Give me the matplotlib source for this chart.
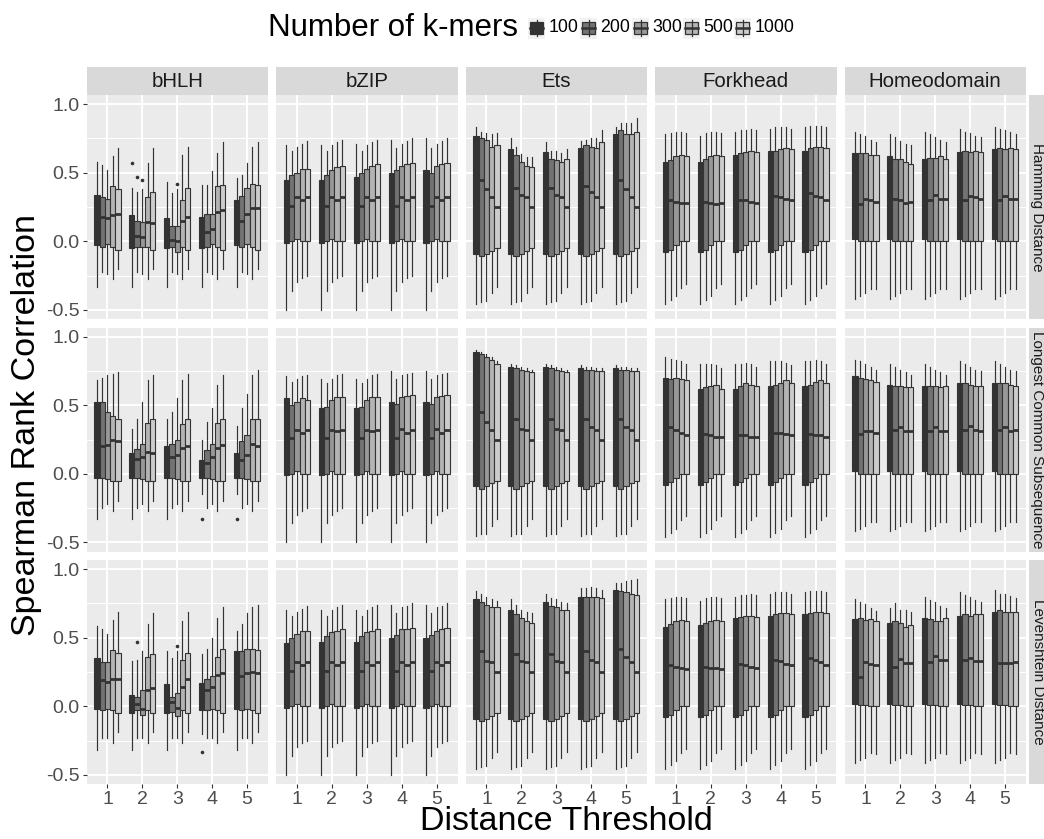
import matplotlib
matplotlib.use("Agg")
import matplotlib.pyplot as plt
from matplotlib.patches import Rectangle
from matplotlib.lines import Line2D

plt.rcParams["font.family"] = ["Liberation Sans", "DejaVu Sans"]

families = ["bHLH", "bZIP", "Ets", "Forkhead", "Homeodomain"]
distances = ["Hamming Distance", "Longest Common Subsequence", "Levenshtein Distance"]
thresholds = [1, 2, 3, 4, 5]
kmers = ["100", "200", "300", "500", "1000"]
fills = ["#333333", "#737373", "#989898", "#B4B4B4", "#CCCCCC"]

# Box statistics: rows are thresholds 1..5, columns are k-mer counts.
# A flat list of 5 means the same value at every threshold.

# ---- Hamming Distance ----
HAM_LO = {
    "bHLH": [-0.33, -0.22, -0.24, -0.275, -0.20],
    "bZIP": [-0.50, -0.36, -0.30, -0.27, -0.25],
    "Ets": [-0.455, -0.44, -0.435, -0.38, -0.33],
    "Forkhead": [-0.46, -0.43, -0.40, -0.34, -0.31],
    "Homeodomain": [-0.42, -0.40, -0.38, -0.35, -0.35],
}
HAM_Q1 = {
    "bHLH": [[-0.03, -0.04, -0.02, -0.04, -0.06],
             [-0.05, -0.04, -0.04, -0.04, -0.06],
             [-0.05, -0.04, -0.08, -0.04, -0.06],
             [-0.05, -0.04, -0.02, -0.04, -0.06],
             [-0.03, -0.04, -0.02, -0.04, -0.06]],
    "bZIP": [-0.01, 0.0, 0.02, 0.0, 0.0],
    "Ets": [-0.09, -0.11, -0.09, -0.07, -0.05],
    "Forkhead": [-0.08, -0.06, -0.03, 0.0, 0.0],
    "Homeodomain": [0.02, 0.0, 0.0, 0.0, 0.0],
}
HAM_MED = {
    "bHLH": [[0.20, 0.18, 0.17, 0.19, 0.20],
             [0.05, 0.04, 0.03, 0.14, 0.13],
             [0.08, 0.01, 0.00, 0.15, 0.18],
             [0.07, 0.07, 0.09, 0.21, 0.23],
             [0.15, 0.15, 0.20, 0.24, 0.24]],
    "bZIP": [0.27, 0.26, 0.32, 0.30, 0.32],
    "Ets": [[0.45, 0.45, 0.38, 0.32, 0.25],
            [0.40, 0.39, 0.335, 0.32, 0.25],
            [0.40, 0.385, 0.335, 0.32, 0.25],
            [0.42, 0.40, 0.36, 0.32, 0.25],
            [0.45, 0.45, 0.38, 0.32, 0.25]],
    "Forkhead": [[0.30, 0.30, 0.29, 0.28, 0.28],
                 [0.28, 0.29, 0.28, 0.27, 0.28],
                 [0.29, 0.30, 0.30, 0.29, 0.28],
                 [0.32, 0.33, 0.32, 0.31, 0.30],
                 [0.33, 0.35, 0.33, 0.32, 0.30]],
    "Homeodomain": [[0.28, 0.27, 0.31, 0.30, 0.29],
                    [0.30, 0.31, 0.30, 0.28, 0.29],
                    [0.31, 0.30, 0.34, 0.31, 0.31],
                    [0.31, 0.30, 0.33, 0.32, 0.31],
                    [0.32, 0.30, 0.33, 0.31, 0.31]],
}
HAM_Q3 = {
    "bHLH": [[0.34, 0.32, 0.31, 0.40, 0.38],
             [0.19, 0.15, 0.14, 0.32, 0.36],
             [0.17, 0.11, 0.11, 0.30, 0.39],
             [0.18, 0.20, 0.20, 0.40, 0.41],
             [0.30, 0.33, 0.39, 0.42, 0.41]],
    "bZIP": [[0.445, 0.48, 0.50, 0.53, 0.53],
             [0.45, 0.48, 0.52, 0.54, 0.55],
             [0.47, 0.50, 0.53, 0.55, 0.56],
             [0.50, 0.52, 0.55, 0.56, 0.57],
             [0.52, 0.50, 0.55, 0.56, 0.57]],
    "Ets": [[0.77, 0.75, 0.74, 0.69, 0.705],
            [0.67, 0.63, 0.575, 0.55, 0.54],
            [0.65, 0.60, 0.59, 0.575, 0.60],
            [0.68, 0.70, 0.685, 0.68, 0.72],
            [0.785, 0.81, 0.785, 0.785, 0.80]],
    "Forkhead": [[0.58, 0.59, 0.62, 0.63, 0.62],
                 [0.58, 0.60, 0.62, 0.63, 0.62],
                 [0.63, 0.64, 0.65, 0.66, 0.65],
                 [0.66, 0.66, 0.67, 0.68, 0.67],
                 [0.66, 0.68, 0.69, 0.69, 0.68]],
    "Homeodomain": [[0.64, 0.64, 0.64, 0.63, 0.63],
                    [0.62, 0.60, 0.60, 0.58, 0.56],
                    [0.60, 0.61, 0.61, 0.62, 0.60],
                    [0.65, 0.66, 0.65, 0.66, 0.65],
                    [0.67, 0.68, 0.67, 0.68, 0.67]],
}
HAM_HI = {
    "bHLH": [[0.58, 0.555, 0.52, 0.625, 0.68],
             [0.39, 0.36, 0.38, 0.57, 0.68],
             [0.43, 0.35, 0.38, 0.63, 0.69],
             [0.41, 0.41, 0.51, 0.64, 0.72],
             [0.46, 0.48, 0.57, 0.69, 0.72]],
    "bZIP": [[0.70, 0.66, 0.69, 0.71, 0.73],
             [0.70, 0.66, 0.70, 0.72, 0.74],
             [0.71, 0.66, 0.70, 0.72, 0.74],
             [0.74, 0.68, 0.71, 0.73, 0.75],
             [0.75, 0.68, 0.71, 0.73, 0.75]],
    "Ets": [[0.83, 0.80, 0.79, 0.78, 0.79],
            [0.75, 0.69, 0.635, 0.615, 0.615],
            [0.72, 0.66, 0.655, 0.645, 0.67],
            [0.73, 0.74, 0.755, 0.755, 0.81],
            [0.83, 0.86, 0.865, 0.865, 0.895]],
    "Forkhead": [[0.78, 0.79, 0.80, 0.80, 0.79],
                 [0.77, 0.79, 0.80, 0.80, 0.79],
                 [0.80, 0.81, 0.81, 0.82, 0.81],
                 [0.82, 0.83, 0.83, 0.83, 0.82],
                 [0.83, 0.84, 0.84, 0.84, 0.83]],
    "Homeodomain": [[0.80, 0.78, 0.77, 0.74, 0.72],
                    [0.78, 0.76, 0.73, 0.71, 0.70],
                    [0.80, 0.78, 0.76, 0.74, 0.72],
                    [0.82, 0.80, 0.79, 0.77, 0.76],
                    [0.83, 0.82, 0.81, 0.80, 0.78]],
}

# ---- Longest Common Subsequence ----
LCS_LO = {
    "bHLH": [[-0.33, -0.25, -0.22, -0.27, -0.20],
             [-0.33, -0.25, -0.22, -0.27, -0.20],
             [-0.33, -0.25, -0.22, -0.27, -0.20],
             [-0.15, -0.25, -0.22, -0.27, -0.20],
             [-0.15, -0.25, -0.22, -0.27, -0.20]],
    "bZIP": [-0.50, -0.36, -0.30, -0.27, -0.25],
    "Ets": [-0.455, -0.44, -0.435, -0.38, -0.33],
    "Forkhead": [-0.46, -0.43, -0.40, -0.34, -0.31],
    "Homeodomain": [-0.42, -0.40, -0.38, -0.35, -0.35],
}
LCS_Q1 = {
    "bHLH": [-0.03, -0.03, -0.04, -0.05, -0.05],
    "bZIP": [-0.01, 0.0, 0.02, 0.0, 0.0],
    "Ets": [-0.09, -0.11, -0.09, -0.07, -0.05],
    "Forkhead": [-0.08, -0.06, -0.03, 0.0, 0.0],
    "Homeodomain": [0.02, 0.0, 0.0, 0.0, 0.0],
}
LCS_MED = {
    "bHLH": [[0.22, 0.20, 0.21, 0.25, 0.24],
             [0.08, 0.11, 0.12, 0.16, 0.15],
             [0.12, 0.12, 0.14, 0.19, 0.20],
             [0.05, 0.08, 0.12, 0.19, 0.21],
             [0.08, 0.10, 0.14, 0.22, 0.20]],
    "bZIP": [[0.27, 0.26, 0.32, 0.30, 0.32],
             [0.27, 0.26, 0.32, 0.31, 0.32],
             [0.27, 0.26, 0.32, 0.31, 0.32],
             [0.27, 0.26, 0.33, 0.30, 0.32],
             [0.27, 0.26, 0.33, 0.30, 0.32]],
    "Ets": [[0.45, 0.45, 0.38, 0.32, 0.25],
            [0.42, 0.40, 0.33, 0.32, 0.25],
            [0.42, 0.40, 0.33, 0.32, 0.25],
            [0.42, 0.40, 0.34, 0.32, 0.25],
            [0.42, 0.40, 0.34, 0.32, 0.25]],
    "Forkhead": [[0.35, 0.34, 0.32, 0.30, 0.28],
                 [0.28, 0.29, 0.28, 0.27, 0.27],
                 [0.27, 0.28, 0.28, 0.27, 0.27],
                 [0.28, 0.30, 0.30, 0.29, 0.28],
                 [0.28, 0.29, 0.28, 0.28, 0.27]],
    "Homeodomain": [[0.29, 0.29, 0.31, 0.31, 0.30],
                    [0.31, 0.32, 0.34, 0.31, 0.31],
                    [0.32, 0.31, 0.34, 0.31, 0.31],
                    [0.33, 0.32, 0.35, 0.32, 0.31],
                    [0.33, 0.32, 0.34, 0.31, 0.32]],
}
LCS_Q3 = {
    "bHLH": [[0.52, 0.52, 0.45, 0.42, 0.40],
             [0.15, 0.18, 0.22, 0.37, 0.40],
             [0.20, 0.22, 0.25, 0.36, 0.40],
             [0.10, 0.17, 0.22, 0.37, 0.40],
             [0.15, 0.24, 0.28, 0.40, 0.40]],
    "bZIP": [[0.55, 0.505, 0.52, 0.55, 0.54],
             [0.48, 0.49, 0.54, 0.56, 0.56],
             [0.48, 0.49, 0.54, 0.56, 0.56],
             [0.52, 0.51, 0.56, 0.57, 0.575],
             [0.52, 0.51, 0.56, 0.57, 0.575]],
    "Ets": [[0.89, 0.87, 0.85, 0.83, 0.80],
            [0.78, 0.77, 0.76, 0.75, 0.74],
            [0.78, 0.77, 0.76, 0.75, 0.74],
            [0.77, 0.76, 0.76, 0.75, 0.75],
            [0.77, 0.76, 0.76, 0.75, 0.75]],
    "Forkhead": [[0.70, 0.69, 0.70, 0.69, 0.68],
                 [0.62, 0.63, 0.64, 0.65, 0.62],
                 [0.62, 0.64, 0.66, 0.65, 0.64],
                 [0.64, 0.65, 0.66, 0.68, 0.66],
                 [0.64, 0.65, 0.67, 0.68, 0.66]],
    "Homeodomain": [[0.71, 0.70, 0.69, 0.68, 0.67],
                    [0.65, 0.64, 0.64, 0.63, 0.63],
                    [0.64, 0.64, 0.64, 0.63, 0.64],
                    [0.66, 0.66, 0.65, 0.64, 0.64],
                    [0.66, 0.66, 0.66, 0.65, 0.64]],
}
LCS_HI = {
    "bHLH": [[0.68, 0.70, 0.72, 0.73, 0.74],
             [0.33, 0.40, 0.52, 0.68, 0.72],
             [0.40, 0.45, 0.55, 0.68, 0.73],
             [0.25, 0.38, 0.48, 0.65, 0.72],
             [0.35, 0.48, 0.58, 0.72, 0.76]],
    "bZIP": [[0.71, 0.67, 0.69, 0.71, 0.72],
             [0.69, 0.66, 0.69, 0.72, 0.73],
             [0.69, 0.66, 0.69, 0.72, 0.73],
             [0.75, 0.69, 0.72, 0.73, 0.735],
             [0.75, 0.69, 0.72, 0.73, 0.735]],
    "Ets": [[0.90, 0.89, 0.87, 0.85, 0.82],
            [0.80, 0.79, 0.78, 0.77, 0.76],
            [0.80, 0.79, 0.78, 0.77, 0.76],
            [0.79, 0.78, 0.78, 0.77, 0.77],
            [0.79, 0.78, 0.78, 0.77, 0.77]],
    "Forkhead": [[0.85, 0.84, 0.83, 0.82, 0.80],
                 [0.80, 0.80, 0.80, 0.79, 0.77],
                 [0.80, 0.80, 0.81, 0.80, 0.78],
                 [0.82, 0.82, 0.82, 0.81, 0.79],
                 [0.82, 0.82, 0.83, 0.82, 0.80]],
    "Homeodomain": [[0.83, 0.82, 0.80, 0.78, 0.76],
                    [0.80, 0.78, 0.76, 0.74, 0.72],
                    [0.80, 0.78, 0.76, 0.74, 0.72],
                    [0.82, 0.80, 0.78, 0.76, 0.75],
                    [0.82, 0.80, 0.78, 0.76, 0.75]],
}

# ---- Levenshtein Distance ----
LEV_LO = {
    "bHLH": [[-0.32, -0.23, -0.23, -0.265, -0.19],
             [-0.32, -0.23, -0.23, -0.265, -0.19],
             [-0.32, -0.23, -0.23, -0.265, -0.19],
             [-0.20, -0.23, -0.23, -0.265, -0.19],
             [-0.32, -0.23, -0.23, -0.265, -0.19]],
    "bZIP": [-0.50, -0.36, -0.30, -0.27, -0.25],
    "Ets": [-0.455, -0.44, -0.435, -0.38, -0.33],
    "Forkhead": [-0.46, -0.43, -0.40, -0.34, -0.31],
    "Homeodomain": [-0.415, -0.39, -0.38, -0.343, -0.35],
}
LEV_Q1 = {
    "bHLH": [[-0.02, -0.03, -0.02, -0.03, -0.05],
             [-0.05, -0.03, -0.06, -0.03, -0.05],
             [-0.05, -0.04, -0.07, -0.03, -0.05],
             [-0.03, -0.03, -0.02, -0.03, -0.05],
             [-0.02, -0.03, -0.02, -0.03, -0.05]],
    "bZIP": [-0.01, 0.0, 0.02, 0.0, 0.0],
    "Ets": [-0.09, -0.11, -0.09, -0.07, -0.05],
    "Forkhead": [-0.08, -0.06, -0.03, 0.0, 0.0],
    "Homeodomain": [0.02, 0.007, 0.007, 0.0, 0.0],
}
LEV_MED = {
    "bHLH": [[0.19, 0.19, 0.18, 0.20, 0.20],
             [0.04, 0.02, -0.02, 0.12, 0.13],
             [0.06, 0.03, -0.01, 0.14, 0.20],
             [0.10, 0.12, 0.14, 0.23, 0.24],
             [0.20, 0.22, 0.24, 0.25, 0.24]],
    "bZIP": [0.27, 0.26, 0.32, 0.30, 0.32],
    "Ets": [[0.42, 0.40, 0.33, 0.32, 0.25],
            [0.40, 0.38, 0.33, 0.32, 0.25],
            [0.40, 0.38, 0.33, 0.32, 0.25],
            [0.42, 0.40, 0.34, 0.32, 0.25],
            [0.45, 0.42, 0.36, 0.32, 0.25]],
    "Forkhead": [[0.29, 0.30, 0.29, 0.28, 0.27],
                 [0.28, 0.29, 0.28, 0.28, 0.27],
                 [0.30, 0.31, 0.30, 0.29, 0.28],
                 [0.33, 0.34, 0.33, 0.31, 0.30],
                 [0.34, 0.35, 0.34, 0.32, 0.30]],
    "Homeodomain": [[0.28, 0.21, 0.324, 0.311, 0.30],
                    [0.30, 0.29, 0.348, 0.319, 0.319],
                    [0.31, 0.324, 0.367, 0.336, 0.336],
                    [0.32, 0.338, 0.355, 0.33, 0.33],
                    [0.31, 0.314, 0.319, 0.319, 0.324]],
}
LEV_Q3 = {
    "bHLH": [[0.355, 0.326, 0.32, 0.41, 0.387],
             [0.08, 0.07, 0.12, 0.36, 0.38],
             [0.16, 0.07, 0.10, 0.34, 0.39],
             [0.17, 0.20, 0.22, 0.36, 0.42],
             [0.40, 0.40, 0.42, 0.42, 0.41]],
    "bZIP": [[0.46, 0.50, 0.53, 0.55, 0.55],
             [0.47, 0.51, 0.54, 0.55, 0.56],
             [0.47, 0.51, 0.54, 0.55, 0.56],
             [0.50, 0.52, 0.56, 0.56, 0.57],
             [0.50, 0.52, 0.55, 0.56, 0.57]],
    "Ets": [[0.78, 0.76, 0.74, 0.72, 0.72],
            [0.70, 0.67, 0.64, 0.62, 0.61],
            [0.76, 0.73, 0.72, 0.70, 0.70],
            [0.80, 0.80, 0.80, 0.80, 0.79],
            [0.85, 0.84, 0.83, 0.82, 0.81]],
    "Forkhead": [[0.58, 0.60, 0.62, 0.63, 0.62],
                 [0.59, 0.61, 0.62, 0.63, 0.62],
                 [0.64, 0.65, 0.66, 0.66, 0.65],
                 [0.66, 0.67, 0.68, 0.68, 0.67],
                 [0.67, 0.68, 0.69, 0.69, 0.68]],
    "Homeodomain": [[0.635, 0.64, 0.628, 0.635, 0.623],
                    [0.61, 0.623, 0.606, 0.58, 0.596],
                    [0.647, 0.635, 0.623, 0.623, 0.64],
                    [0.655, 0.67, 0.66, 0.67, 0.67],
                    [0.69, 0.703, 0.684, 0.69, 0.69]],
}
LEV_HI = {
    "bHLH": [[0.586, 0.56, 0.525, 0.63, 0.69],
             [0.33, 0.34, 0.40, 0.60, 0.68],
             [0.40, 0.35, 0.40, 0.62, 0.69],
             [0.38, 0.42, 0.50, 0.64, 0.72],
             [0.55, 0.60, 0.68, 0.72, 0.74]],
    "bZIP": [[0.70, 0.66, 0.69, 0.71, 0.73],
             [0.70, 0.66, 0.70, 0.72, 0.74],
             [0.70, 0.66, 0.70, 0.72, 0.74],
             [0.74, 0.68, 0.72, 0.73, 0.75],
             [0.74, 0.68, 0.72, 0.73, 0.75]],
    "Ets": [[0.84, 0.82, 0.80, 0.78, 0.77],
            [0.78, 0.74, 0.70, 0.69, 0.68],
            [0.82, 0.79, 0.78, 0.76, 0.75],
            [0.86, 0.86, 0.87, 0.86, 0.85],
            [0.90, 0.90, 0.91, 0.92, 0.93]],
    "Forkhead": [[0.78, 0.79, 0.80, 0.80, 0.79],
                 [0.77, 0.79, 0.80, 0.80, 0.79],
                 [0.80, 0.81, 0.81, 0.82, 0.81],
                 [0.82, 0.83, 0.83, 0.83, 0.82],
                 [0.83, 0.84, 0.84, 0.84, 0.83]],
    "Homeodomain": [[0.785, 0.757, 0.745, 0.713, 0.696],
                    [0.715, 0.75, 0.703, 0.703, 0.684],
                    [0.80, 0.776, 0.757, 0.732, 0.713],
                    [0.83, 0.81, 0.793, 0.776, 0.76],
                    [0.85, 0.82, 0.818, 0.805, 0.788]],
}

# (distance, family, threshold, k-mers, value)
OUTLIERS = [
    ("Hamming Distance", "bHLH", 2, "100", 0.57),
    ("Hamming Distance", "bHLH", 2, "200", 0.47),
    ("Hamming Distance", "bHLH", 2, "300", 0.445),
    ("Hamming Distance", "bHLH", 3, "300", 0.42),
    ("Longest Common Subsequence", "bHLH", 4, "100", -0.33),
    ("Longest Common Subsequence", "bHLH", 5, "100", -0.33),
    ("Levenshtein Distance", "bHLH", 2, "200", 0.47),
    ("Levenshtein Distance", "bHLH", 3, "300", 0.44),
    ("Levenshtein Distance", "bHLH", 4, "100", -0.33),
]

STATS = {
    "Hamming Distance": (HAM_LO, HAM_Q1, HAM_MED, HAM_Q3, HAM_HI),
    "Longest Common Subsequence": (LCS_LO, LCS_Q1, LCS_MED, LCS_Q3, LCS_HI),
    "Levenshtein Distance": (LEV_LO, LEV_Q1, LEV_MED, LEV_Q3, LEV_HI),
}


def by_threshold(v):
    return v if isinstance(v[0], list) else [v] * len(thresholds)


W, H = 1044, 839
fig = plt.figure(figsize=(W / 100, H / 100), dpi=100)

PANEL_W, PANEL_H = 181.5, 224
lefts = [86.5 + i * 189.5 for i in range(5)]
tops = [95 + i * 232.5 for i in range(3)]
DODGE = 0.15
LINE = "#333333"

for r, dist in enumerate(distances):
    lo_d, q1_d, med_d, q3_d, hi_d = STATS[dist]
    for c, fam in enumerate(families):
        ax = fig.add_axes([lefts[c] / W, 1 - (tops[r] + PANEL_H) / H,
                           PANEL_W / W, PANEL_H / H])
        ax.set_facecolor("#EBEBEB")
        for s in ax.spines.values():
            s.set_visible(False)
        lo = by_threshold(lo_d[fam])
        q1 = by_threshold(q1_d[fam])
        med = by_threshold(med_d[fam])
        q3 = by_threshold(q3_d[fam])
        hi = by_threshold(hi_d[fam])
        for k, km in enumerate(kmers):
            bstats, pos = [], []
            for t_i, t in enumerate(thresholds):
                fl = [o[4] for o in OUTLIERS
                      if o[0] == dist and o[1] == fam and o[2] == t and o[3] == km]
                bstats.append(dict(whislo=lo[t_i][k], q1=q1[t_i][k], med=med[t_i][k],
                                   q3=q3[t_i][k], whishi=hi[t_i][k], fliers=fl))
                pos.append(t + (k - 2) * DODGE)
            ax.bxp(bstats, positions=pos, widths=DODGE, patch_artist=True,
                   showcaps=False, manage_ticks=False,
                   boxprops=dict(facecolor=fills[k], edgecolor=LINE, linewidth=0.8),
                   medianprops=dict(color=LINE, linewidth=2.0, solid_capstyle="butt"),
                   whiskerprops=dict(color=LINE, linewidth=0.85),
                   flierprops=dict(marker="o", markersize=2.6, markerfacecolor=LINE,
                                   markeredgecolor="none"))
        ax.set_xlim(0.4, 5.6)
        ax.set_ylim(-0.566, 1.066)
        ax.set_xticks(thresholds)
        ax.set_yticks([-0.5, 0.0, 0.5, 1.0])
        ax.set_yticks([-0.25, 0.25, 0.75], minor=True)
        ax.set_axisbelow(True)
        ax.grid(which="major", color="white", linewidth=1.4)
        ax.grid(which="minor", axis="y", color="white", linewidth=0.7)
        ax.tick_params(which="minor", length=0)
        ax.tick_params(which="major", length=3, width=0.8, color=LINE,
                       labelsize=14, labelcolor="#4D4D4D", pad=2)
        if c == 0:
            ax.set_yticklabels(["-0.5", "0.0", "0.5", "1.0"])
        else:
            ax.tick_params(axis="y", length=0, labelleft=False)
        if r == 2:
            ax.set_xticklabels([str(t) for t in thresholds])
        else:
            ax.tick_params(axis="x", length=0, labelbottom=False)

# strips, legend and titles on a pixel-space overlay
ov = fig.add_axes([0, 0, 1, 1])
ov.set_xlim(0, W)
ov.set_ylim(H, 0)
ov.axis("off")
ov.patch.set_visible(False)

for c, fam in enumerate(families):
    ov.add_patch(Rectangle((lefts[c], 67), PANEL_W, 28, facecolor="#D9D9D9",
                           edgecolor="none"))
    ov.text(lefts[c] + PANEL_W / 2, 81.5, fam, ha="center", va="center",
            fontsize=14.7, color="#1A1A1A")
for r, dist in enumerate(distances):
    ov.add_patch(Rectangle((1028.5, tops[r]), 30, PANEL_H, facecolor="#D9D9D9",
                           edgecolor="none", clip_on=False))
    ov.text(1037.5, tops[r] + PANEL_H / 2, dist, ha="center", va="center",
            rotation=-90, fontsize=11, color="#1A1A1A")

ov.text(268, 28, "Number of k-mers", ha="left", va="center", fontsize=22.5,
        color="black")
key_x = [528, 580, 632, 683, 734]
for k, km in enumerate(kmers):
    x0, y0, kw, kh = key_x[k], 17.5, 17, 21
    ov.add_patch(Rectangle((x0, y0), kw, kh, facecolor="#F2F2F2", edgecolor="none"))
    cx = x0 + kw / 2
    ov.add_line(Line2D([cx, cx], [y0 + 0.1 * kh, y0 + 0.9 * kh], color=LINE,
                       linewidth=0.9))
    ov.add_patch(Rectangle((x0 + 0.125 * kw, y0 + 0.22 * kh), 0.75 * kw, 0.56 * kh,
                           facecolor=fills[k], edgecolor=LINE, linewidth=0.9))
    ov.add_line(Line2D([x0 + 0.125 * kw, x0 + 0.875 * kw], [y0 + kh / 2] * 2,
                       color=LINE, linewidth=1.8))
    ov.text(x0 + kw + 3.5, 28, km, ha="left", va="center", fontsize=12.8,
            color="black")

ov.text(566, 822, "Distance Threshold", ha="center", va="center", fontsize=24.5)
ov.text(27, 425, "Spearman Rank Correlation", ha="center", va="center",
        rotation=90, fontsize=24.5)

fig.savefig("out.png", dpi=100)
